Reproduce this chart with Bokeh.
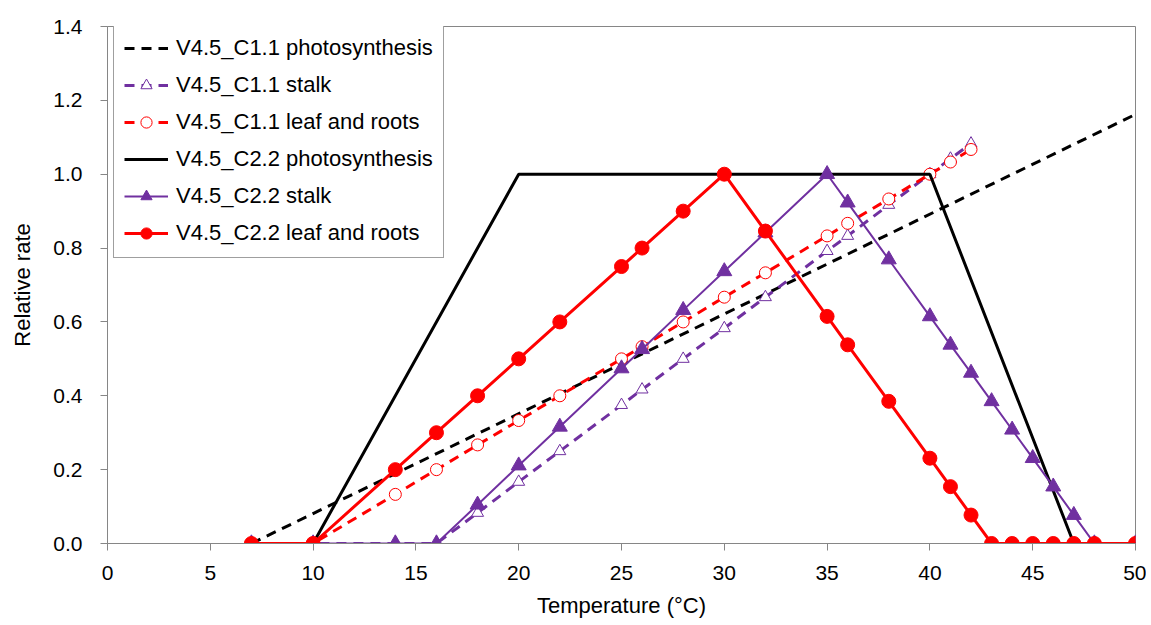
from bokeh.plotting import figure
from bokeh.models import Range1d, FixedTicker, Legend, LegendItem, NumeralTickFormatter
from bokeh.embed import file_html
from bokeh.resources import INLINE

# ---- data ----
temps_c11_ps = [7, 50]
ps_c11 = [0.0, 1.162]

temps_c11 = [7, 10, 14, 16, 18, 20, 22, 25, 26, 28, 30, 32, 35, 36, 38, 40, 41, 42]
stalk_c11 = [0, 0, 0, 0, 0.083, 0.167, 0.25, 0.375, 0.417, 0.5, 0.583, 0.667, 0.792, 0.833, 0.917, 1.0, 1.042, 1.083]
leaf_c11 = [0, 0, 0.133, 0.2, 0.267, 0.333, 0.4, 0.5, 0.533, 0.6, 0.667, 0.733, 0.833, 0.867, 0.933, 1.0, 1.033, 1.067]

temps_c22_ps = [7, 10, 20, 40, 47, 48, 50]
ps_c22 = [0, 0, 1.0, 1.0, 0, 0, 0]

temps_c22 = [7, 10, 14, 16, 18, 20, 22, 25, 26, 28, 30, 32, 35, 36, 38, 40, 41, 42, 43, 44, 45, 46, 47, 48, 50]
stalk_c22 = [0, 0, 0, 0, 0.105, 0.211, 0.316, 0.474, 0.526, 0.632, 0.737, 0.842, 1.0, 0.923, 0.769, 0.615,
             0.538, 0.462, 0.385, 0.308, 0.231, 0.154, 0.077, 0, 0]
leaf_c22 = [0, 0, 0.2, 0.3, 0.4, 0.5, 0.6, 0.75, 0.8, 0.9, 1.0, 0.846, 0.615, 0.538, 0.385, 0.231, 0.154,
            0.077, 0, 0, 0, 0, 0, 0, 0]

labels = ["V4.5_C1.1 photosynthesis", "V4.5_C1.1 stalk", "V4.5_C1.1 leaf and roots",
          "V4.5_C2.2 photosynthesis", "V4.5_C2.2 stalk", "V4.5_C2.2 leaf and roots"]
x_ticks = [0, 5, 10, 15, 20, 25, 30, 35, 40, 45, 50]
y_ticks = [0.0, 0.2, 0.4, 0.6, 0.8, 1.0, 1.2, 1.4]

RED = "#FF0000"
PURPLE = "#7030A0"
BLACK = "#000000"
GRAY = "#868686"
FONT = "Liberation Sans"

p = figure(width=1146, height=620, output_backend="svg", toolbar_location=None,
           x_range=Range1d(0, 50), y_range=Range1d(0, 1.4),
           min_border_left=107, min_border_right=11, min_border_top=26, min_border_bottom=77)
p.xgrid.visible = False
p.ygrid.visible = False
p.outline_line_color = GRAY
p.outline_line_width = 1

# series
r1 = p.line(temps_c11_ps, ps_c11, line_color=BLACK, line_width=3, line_dash="10 7")

r2l = p.line(temps_c11, stalk_c11, line_color=PURPLE, line_width=3, line_dash="10 7")
r2m = p.scatter(temps_c11, stalk_c11, marker="triangle", size=12, line_color=PURPLE, line_width=1,
                fill_color="white")

r3l = p.line(temps_c11, leaf_c11, line_color=RED, line_width=3, line_dash="10 7")
r3m = p.scatter(temps_c11, leaf_c11, marker="circle", size=12, line_color=RED, line_width=1,
                fill_color="white")

r4 = p.line(temps_c22_ps, ps_c22, line_color=BLACK, line_width=3)

r5l = p.line(temps_c22, stalk_c22, line_color=PURPLE, line_width=2)
r5m = p.scatter(temps_c22, stalk_c22, marker="triangle", size=15, line_color=PURPLE, fill_color=PURPLE)

r6l = p.line(temps_c22, leaf_c22, line_color=RED, line_width=3)
r6m = p.scatter(temps_c22, leaf_c22, marker="circle", size=14, line_color=RED, fill_color=RED)

# axes
p.xaxis.ticker = FixedTicker(ticks=x_ticks)
p.yaxis.ticker = FixedTicker(ticks=y_ticks)
p.yaxis.formatter = NumeralTickFormatter(format="0.0")
for ax in (p.xaxis[0], p.yaxis[0]):
    ax.axis_line_color = GRAY
    ax.major_tick_line_color = GRAY
    ax.minor_tick_line_color = None
    ax.major_tick_in = 0
    ax.major_tick_out = 7
    ax.major_label_text_font = FONT
    ax.major_label_text_font_size = "21px"
    ax.major_label_text_color = "black"
    ax.axis_label_text_font = FONT
    ax.axis_label_text_font_size = "22px"
    ax.axis_label_text_font_style = "normal"
    ax.axis_label_text_color = "black"

p.xaxis.axis_label = "Temperature (°C)"
p.yaxis.axis_label = "Relative rate"
p.xaxis.major_label_standoff = 15
p.yaxis.major_label_standoff = 18
p.xaxis.axis_label_standoff = 10
p.yaxis.axis_label_standoff = 15

legend = Legend(items=[
    LegendItem(label=labels[0], renderers=[r1]),
    LegendItem(label=labels[1], renderers=[r2l, r2m]),
    LegendItem(label=labels[2], renderers=[r3l, r3m]),
    LegendItem(label=labels[3], renderers=[r4]),
    LegendItem(label=labels[4], renderers=[r5l, r5m]),
    LegendItem(label=labels[5], renderers=[r6l, r6m]),
], location=(6, 285))
legend.label_text_font = FONT
legend.label_text_font_size = "22px"
legend.label_text_color = "black"
legend.padding = 10
legend.spacing = 9
legend.glyph_width = 44
legend.glyph_height = 28
legend.label_height = 28
legend.label_standoff = 8
legend.margin = 0
legend.border_line_color = "#404040"
legend.border_line_width = 1
legend.background_fill_color = "white"
legend.background_fill_alpha = 1.0
p.add_layout(legend, "center")

open("out.html", "w").write(file_html(p, INLINE))
